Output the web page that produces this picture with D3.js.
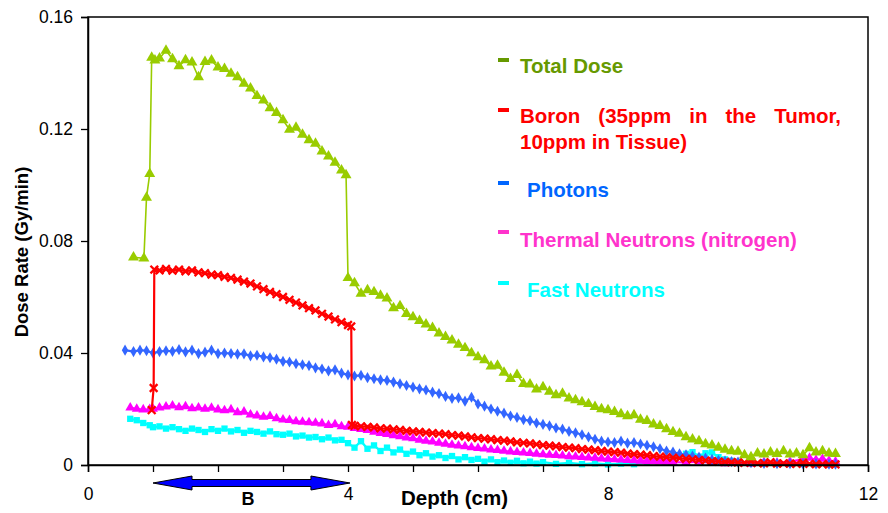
<!DOCTYPE html>
<html><head><meta charset="utf-8">
<script src="https://cdn.jsdelivr.net/npm/d3@7"></script>
<style>
html,body{margin:0;padding:0;background:#fff;}
svg{display:block;font-family:Arial,"Liberation Sans",sans-serif;}
</style></head>
<body><svg id="chart" width="888" height="513"></svg>
<script>
// ---------- data (depth in cm, dose rate in Gy/min) ----------
const seriesNames = ["Total Dose","Boron (35ppm in the Tumor, 10ppm in Tissue)","Photons","Thermal Neutrons (nitrogen)","Fast Neutrons"];
const xTickValues = [0,1,2,3,4,5,6,7,8,9,10,11,12];
const xTickLabels = [0,4,8,12];
const yTickValues = [0,0.04,0.08,0.12,0.16];
const tumorSpan = [1.0,4.03];
const tumorLabel = "B";

const totalDose = [[0.70,0.0742],[0.86,0.0738],[0.90,0.0955],[0.95,0.1040],[0.98,0.1455],
[1.03,0.1445],[1.1,0.1452],[1.2,0.1480],[1.3,0.1450],[1.4,0.1425],[1.5,0.1446],[1.6,0.1438],[1.7,0.1385],[1.8,0.1440],[1.9,0.1445],
[2.0,0.1420],[2.1,0.1415],[2.2,0.1398],[2.3,0.1385],[2.4,0.1362],[2.5,0.1345],[2.6,0.1318],[2.7,0.1302],[2.8,0.1275],[2.9,0.1258],
[3.0,0.1232],[3.1,0.1198],[3.2,0.1205],[3.3,0.1180],[3.4,0.1160],[3.5,0.1148],[3.6,0.1120],[3.7,0.1102],[3.8,0.1080],[3.9,0.1052],[3.97,0.1035],
[4.00,0.0668],[4.1,0.0650],[4.2,0.0612],[4.3,0.0625],[4.4,0.0618],[4.5,0.0605],[4.6,0.0595],[4.7,0.0560],[4.8,0.0568],[4.9,0.0540],
[5.0,0.0528],[5.1,0.0515],[5.2,0.0502],[5.3,0.0490],[5.4,0.0470],[5.5,0.0458],[5.6,0.0445],[5.7,0.0430],[5.8,0.0418],[5.9,0.0400],
[6.0,0.0385],[6.1,0.0375],[6.2,0.0352],[6.3,0.0355],[6.4,0.0330],[6.5,0.0308],[6.6,0.0322],[6.7,0.0290],[6.8,0.0288],[6.9,0.0270],
[7.0,0.0278],[7.1,0.0262],[7.2,0.0250],[7.3,0.0255],[7.4,0.0238],[7.5,0.0232],[7.6,0.0225],[7.7,0.0218],[7.8,0.0208],[7.9,0.0200],
[8.0,0.0196],[8.1,0.0190],[8.2,0.0182],[8.3,0.0175],[8.4,0.0178],[8.5,0.0162],[8.6,0.0158],[8.7,0.0145],[8.8,0.0140],[8.9,0.0128],
[9.0,0.0118],[9.1,0.0112],[9.2,0.0100],[9.3,0.0092],[9.4,0.0085],[9.5,0.0075],[9.6,0.0070],[9.7,0.0062],[9.8,0.0055],[9.9,0.0050],
[10.0,0.0048],[10.1,0.0035],[10.2,0.0028],[10.3,0.0042],[10.4,0.0038],[10.5,0.0045],[10.6,0.0040],[10.7,0.0050],[10.8,0.0038],[10.9,0.0042],
[11.0,0.0035],[11.1,0.0060],[11.2,0.0045],[11.3,0.0050],[11.4,0.0042],[11.5,0.0040]];

const boron = [[0.98,0.0196],[1.01,0.0275],[1.02,0.0698],
[1.1,0.0695],[1.2,0.0700],[1.3,0.0694],[1.4,0.0698],[1.5,0.0692],[1.6,0.0695],[1.7,0.0688],[1.8,0.0685],[1.9,0.0680],
[2.0,0.0678],[2.1,0.0672],[2.2,0.0668],[2.3,0.0662],[2.4,0.0655],[2.5,0.0648],[2.6,0.0638],[2.7,0.0628],[2.8,0.0618],[2.9,0.0610],
[3.0,0.0600],[3.1,0.0590],[3.2,0.0580],[3.3,0.0570],[3.4,0.0560],[3.5,0.0552],[3.6,0.0540],[3.7,0.0530],[3.8,0.0520],[3.9,0.0510],
[4.0,0.0500],[4.05,0.0495],[4.06,0.0143],
[4.1,0.0140],[4.2,0.0138],[4.3,0.0136],[4.4,0.0134],[4.5,0.0131],[4.6,0.0130],[4.7,0.0127],[4.8,0.0125],[4.9,0.0122],
[5.0,0.0120],[5.1,0.0118],[5.2,0.0116],[5.3,0.0114],[5.4,0.0112],[5.5,0.0110],[5.6,0.0107],[5.7,0.0105],[5.8,0.0102],[5.9,0.0099],
[6.0,0.0096],[6.1,0.0094],[6.2,0.0092],[6.3,0.0089],[6.4,0.0087],[6.5,0.0084],[6.6,0.0081],[6.7,0.0079],[6.8,0.0077],[6.9,0.0074],
[7.0,0.0071],[7.1,0.0069],[7.2,0.0067],[7.3,0.0064],[7.4,0.0062],[7.5,0.0060],[7.6,0.0057],[7.7,0.0055],[7.8,0.0053],[7.9,0.0050],
[8.0,0.0048],[8.1,0.0046],[8.2,0.0044],[8.3,0.0041],[8.4,0.0039],[8.5,0.0037],[8.6,0.0035],[8.7,0.0032],[8.8,0.0030],[8.9,0.0028],
[9.0,0.0026],[9.1,0.0024],[9.2,0.0022],[9.3,0.0020],[9.4,0.0018],[9.5,0.0016],[9.6,0.0014],[9.7,0.0012],[9.8,0.0011],[9.9,0.0010],
[10.0,0.0009],[10.1,0.0008],[10.2,0.0012],[10.3,0.0007],[10.4,0.0006],[10.5,0.0010],[10.6,0.0005],[10.7,0.0006],[10.8,0.0005],[10.9,0.0004],
[11.0,0.0008],[11.1,0.0004],[11.2,0.0003],[11.3,0.0003],[11.4,0.0002],[11.5,0.0002]];

const photons = [[0.57,0.0410],[0.7,0.0405],[0.8,0.0410],[0.9,0.0408],
[1.0,0.0400],[1.1,0.0405],[1.2,0.0408],[1.3,0.0406],[1.4,0.0412],[1.5,0.0404],[1.6,0.0410],[1.7,0.0398],[1.8,0.0403],[1.9,0.0410],
[2.0,0.0398],[2.1,0.0400],[2.2,0.0398],[2.3,0.0396],[2.4,0.0397],[2.5,0.0390],[2.6,0.0392],[2.7,0.0386],[2.8,0.0383],[2.9,0.0378],
[3.0,0.0370],[3.1,0.0368],[3.2,0.0362],[3.3,0.0358],[3.4,0.0355],[3.5,0.0347],[3.6,0.0343],[3.7,0.0336],[3.8,0.0340],[3.9,0.0328],
[4.0,0.0322],[4.1,0.0318],[4.2,0.0320],[4.3,0.0312],[4.4,0.0308],[4.5,0.0304],[4.6,0.0302],[4.7,0.0296],[4.8,0.0290],[4.9,0.0284],
[5.0,0.0278],[5.1,0.0272],[5.2,0.0268],[5.3,0.0260],[5.4,0.0255],[5.5,0.0245],[5.6,0.0238],[5.7,0.0240],[5.8,0.0228],[5.9,0.0242],
[6.0,0.0218],[6.1,0.0210],[6.2,0.0200],[6.3,0.0192],[6.4,0.0185],[6.5,0.0175],[6.6,0.0170],[6.7,0.0162],[6.8,0.0158],[6.9,0.0150],
[7.0,0.0145],[7.1,0.0140],[7.2,0.0132],[7.3,0.0128],[7.4,0.0120],[7.5,0.0115],[7.6,0.0108],[7.7,0.0100],[7.8,0.0092],[7.9,0.0085],
[8.0,0.0082],[8.1,0.0080],[8.2,0.0085],[8.3,0.0078],[8.4,0.0080],[8.5,0.0075],[8.6,0.0070],[8.7,0.0065],[8.8,0.0058],[8.9,0.0050],
[9.0,0.0046],[9.1,0.0040],[9.2,0.0036],[9.3,0.0032],[9.4,0.0028],[9.5,0.0025],[9.6,0.0020],[9.7,0.0017],[9.8,0.0014],[9.9,0.0012],
[10.0,0.0010],[10.2,0.0008],[10.4,0.0006],[10.6,0.0005],[10.8,0.0005],[11.0,0.0004],[11.2,0.0004],[11.4,0.0003],[11.5,0.0003]];

const thermalNeutrons = [[0.65,0.0205],[0.75,0.0200],[0.85,0.0198],[0.95,0.0199],
[1.0,0.0200],[1.1,0.0205],[1.2,0.0208],[1.3,0.0212],[1.4,0.0206],[1.5,0.0209],[1.6,0.0202],[1.7,0.0205],[1.8,0.0200],[1.9,0.0204],
[2.0,0.0198],[2.1,0.0195],[2.2,0.0198],[2.3,0.0188],[2.4,0.0190],[2.5,0.0180],[2.6,0.0176],[2.7,0.0172],[2.8,0.0174],[2.9,0.0166],
[3.0,0.0162],[3.1,0.0160],[3.2,0.0156],[3.3,0.0154],[3.4,0.0152],[3.5,0.0150],[3.6,0.0148],[3.7,0.0142],[3.8,0.0145],[3.9,0.0138],
[4.0,0.0136],[4.1,0.0132],[4.2,0.0128],[4.3,0.0124],[4.4,0.0118],[4.5,0.0114],[4.6,0.0110],[4.7,0.0106],[4.8,0.0102],[4.9,0.0098],
[5.0,0.0095],[5.1,0.0090],[5.2,0.0086],[5.3,0.0083],[5.4,0.0079],[5.5,0.0075],[5.6,0.0072],[5.7,0.0069],[5.8,0.0066],[5.9,0.0063],
[6.0,0.0060],[6.1,0.0058],[6.2,0.0055],[6.3,0.0053],[6.4,0.0050],[6.5,0.0048],[6.6,0.0046],[6.7,0.0044],[6.8,0.0042],[6.9,0.0040],
[7.0,0.0038],[7.1,0.0036],[7.2,0.0035],[7.3,0.0033],[7.4,0.0031],[7.5,0.0030],[7.6,0.0028],[7.7,0.0026],[7.8,0.0025],[7.9,0.0023],
[8.0,0.0022],[8.1,0.0020],[8.2,0.0019],[8.3,0.0017],[8.4,0.0016],[8.5,0.0015],[8.6,0.0014],[8.7,0.0013],[8.8,0.0012],[8.9,0.0011],
[9.0,0.0010],[9.2,0.0009],[9.4,0.0012],[9.6,0.0008],[9.8,0.0006],[10.0,0.0008],[10.2,0.0005],[10.4,0.0010],[10.6,0.0008],[10.8,0.0012],
[11.0,0.0020],[11.1,0.0025],[11.2,0.0018],[11.3,0.0022],[11.4,0.0015],[11.5,0.0012]];

const fastNeutrons = [[0.65,0.0165],[0.75,0.0160],[0.85,0.0150],[0.95,0.0142],
[1.0,0.0135],[1.1,0.0138],[1.2,0.0130],[1.3,0.0135],[1.4,0.0128],[1.5,0.0122],[1.6,0.0130],[1.7,0.0125],[1.8,0.0118],[1.9,0.0128],
[2.0,0.0122],[2.1,0.0130],[2.2,0.0120],[2.3,0.0125],[2.4,0.0115],[2.5,0.0122],[2.6,0.0118],[2.7,0.0112],[2.8,0.0120],[2.9,0.0110],
[3.0,0.0108],[3.1,0.0112],[3.2,0.0102],[3.3,0.0105],[3.4,0.0098],[3.5,0.0100],[3.6,0.0092],[3.7,0.0098],[3.8,0.0088],[3.9,0.0090],
[4.0,0.0078],[4.1,0.0062],[4.2,0.0085],[4.3,0.0058],[4.4,0.0070],[4.5,0.0050],[4.6,0.0062],[4.7,0.0045],[4.8,0.0055],[4.9,0.0040],
[5.0,0.0048],[5.1,0.0035],[5.2,0.0042],[5.3,0.0030],[5.4,0.0035],[5.5,0.0025],[5.6,0.0032],[5.7,0.0020],[5.8,0.0028],[5.9,0.0018],
[6.0,0.0022],[6.1,0.0012],[6.2,0.0020],[6.3,0.0010],[6.4,0.0016],[6.5,0.0008],[6.6,0.0015],[6.7,0.0006],[6.8,0.0012],[6.9,0.0005],
[7.0,0.0010],[7.2,0.0004],[7.4,0.0008],[7.6,0.0003],[7.8,0.0006],[8.0,0.0002],[8.2,0.0005],[8.4,0.0003],[8.6,0.0008],[8.8,0.0015],
[9.0,0.0022],[9.1,0.0030],[9.2,0.0040],[9.3,0.0046],[9.4,0.0030],[9.5,0.0042],[9.6,0.0045],[9.7,0.0028],[9.8,0.0020],[9.9,0.0015],
[10.0,0.0012],[10.2,0.0008],[10.4,0.0010],[10.6,0.0006],[10.8,0.0005],[11.0,0.0004],[11.2,0.0003],[11.4,0.0002]];

// ---------- layout ----------
const svg = d3.select("#chart");
const M = {left:88, top:17, right:868, bottom:465};
const x = d3.scaleLinear().domain([0,12]).range([M.left, M.right]);
const y = d3.scaleLinear().domain([0,0.16]).range([M.bottom, M.top]);

const series = [
  {name:seriesNames[4], data:fastNeutrons,   line:"#00FFFF", marker:"square"},
  {name:seriesNames[3], data:thermalNeutrons,line:"#FF00FF", marker:"tri-small"},
  {name:seriesNames[2], data:photons,        line:"#3366FF", marker:"diamond"},
  {name:seriesNames[1], data:boron,          line:"#FF0000", marker:"cross"},
  {name:seriesNames[0], data:totalDose,      line:"#99CC00", marker:"tri"}
];

const line = d3.line().x(d=>x(d[0])).y(d=>y(d[1]));
const plot = svg.append("g");
series.forEach(s=>{
  const g = plot.append("g");
  g.append("path").attr("d", line(s.data)).attr("fill","none")
    .attr("stroke", s.line).attr("stroke-width", s.marker==="tri" ? 1.6 : 2.2);
  const m = g.selectAll("path.m").data(s.data).enter().append("path").attr("class","m")
    .attr("transform", d=>`translate(${x(d[0])},${y(d[1])})`);
  if (s.marker==="tri") m.attr("d", d3.symbol(d3.symbolTriangle, 52)()).attr("fill", s.line);
  else if (s.marker==="tri-small") m.attr("d", d3.symbol(d3.symbolTriangle, 42)()).attr("fill", s.line);
  else if (s.marker==="square") m.attr("d", d3.symbol(d3.symbolSquare, 40)()).attr("fill", s.line);
  else if (s.marker==="diamond") m.attr("d", d3.symbol(d3.symbolDiamond, 36)()).attr("fill", s.line);
  else if (s.marker==="cross") m.attr("d", d3.symbol(d3.symbolTimes, 40)()).attr("fill","none")
    .attr("stroke", s.line).attr("stroke-width",2.3);
});

// frame
svg.append("rect").attr("x",M.left).attr("y",M.top).attr("width",M.right-M.left).attr("height",M.bottom-M.top)
  .attr("fill","none").attr("stroke","#000").attr("stroke-width",1.5);

// y axis
const yAxis = d3.axisLeft(y).tickValues(yTickValues).tickSize(7).tickPadding(8)
  .tickFormat(d=> d===0 ? "0" : d3.format(".2f")(d));
const gy = svg.append("g").attr("transform",`translate(${M.left},0)`).call(yAxis);
gy.select(".domain").attr("stroke","#000").attr("stroke-width",1.5);
gy.selectAll(".tick line").attr("stroke","#000").attr("stroke-width",1.3);
gy.selectAll(".tick text").attr("font-size",17.5).attr("font-family","Arial, 'Liberation Sans', sans-serif").attr("fill","#000");

// x axis
const xAxis = d3.axisBottom(x).tickValues(xTickValues).tickSize(7).tickPadding(16)
  .tickFormat(d=> xTickLabels.includes(d) ? String(d) : "");
const gx = svg.append("g").attr("transform",`translate(0,${M.bottom})`).call(xAxis);
gx.select(".domain").attr("stroke","#000").attr("stroke-width",1.5);
gx.selectAll(".tick line").attr("stroke","#000").attr("stroke-width",1.3);
gx.selectAll(".tick text").attr("font-size",17.5).attr("font-family","Arial, 'Liberation Sans', sans-serif").attr("fill","#000");

// axis titles
svg.append("text").attr("x",401).attr("y",505).attr("font-size",20.5).attr("font-weight","bold")
  .attr("fill","#000").text("Depth (cm)");
svg.append("text").attr("transform","translate(28,252) rotate(-90)").attr("text-anchor","middle")
  .attr("font-size",18.5).attr("font-weight","bold").attr("fill","#000").text("Dose Rate (Gy/min)");

// tumour region arrow
const ay = 483, head = 39, hh = 7, sh = 3.5;
const ax0 = x(tumorSpan[0]), ax1 = x(tumorSpan[1]);
const arrowPts = [[ax0,ay],[ax0+head,ay-hh],[ax0+head,ay-sh],[ax1-head,ay-sh],[ax1-head,ay-hh],[ax1,ay],
  [ax1-head,ay+hh],[ax1-head,ay+sh],[ax0+head,ay+sh],[ax0+head,ay+hh]];
svg.append("path").attr("d", d3.line()(arrowPts)+"Z").attr("fill","#0000FF").attr("stroke","#000").attr("stroke-width",1);
svg.append("text").attr("x",x(2.46)).attr("y",505).attr("text-anchor","middle").attr("font-size",18)
  .attr("font-weight","bold").attr("fill","#000").text(tumorLabel);

// legend
const legend = [
  {lines:["Total Dose"], color:"#669900", dashY:60, base:[73], tx:520, justify:false},
  {lines:["Boron (35ppm in the Tumor,","10ppm in Tissue)"], color:"#FF0000", dashY:110, base:[123,149], tx:520, justify:true},
  {lines:["Photons"], color:"#0066FF", dashY:183, base:[197], tx:527, justify:false},
  {lines:["Thermal Neutrons (nitrogen)"], color:"#FF33CC", dashY:232, base:[247], tx:520, justify:false},
  {lines:["Fast Neutrons"], color:"#00FFFF", dashY:283, base:[297], tx:527, justify:false}
];
const lg = svg.append("g");
legend.forEach(L=>{
  lg.append("rect").attr("x",498).attr("y",L.dashY-2).attr("width",11).attr("height",4).attr("fill",L.color);
  L.lines.forEach((t,i)=>{
    if (L.justify && i===0) {
      const words = t.split(" ");
      const nodes = words.map(w=> lg.append("text").attr("y",L.base[i]).attr("font-size",20.5)
        .attr("font-weight","bold").attr("fill",L.color).text(w));
      const widths = nodes.map(n=>n.node().getComputedTextLength());
      const total = d3.sum(widths);
      const gap = (841 - L.tx - total)/(words.length-1);
      let cx = L.tx;
      nodes.forEach((n,k)=>{ n.attr("x",cx); cx += widths[k] + gap; });
    } else {
      lg.append("text").attr("x",L.tx).attr("y",L.base[i]).attr("font-size",20.5).attr("font-weight","bold")
        .attr("fill",L.color).text(t);
    }
  });
});
</script>
</body></html>
